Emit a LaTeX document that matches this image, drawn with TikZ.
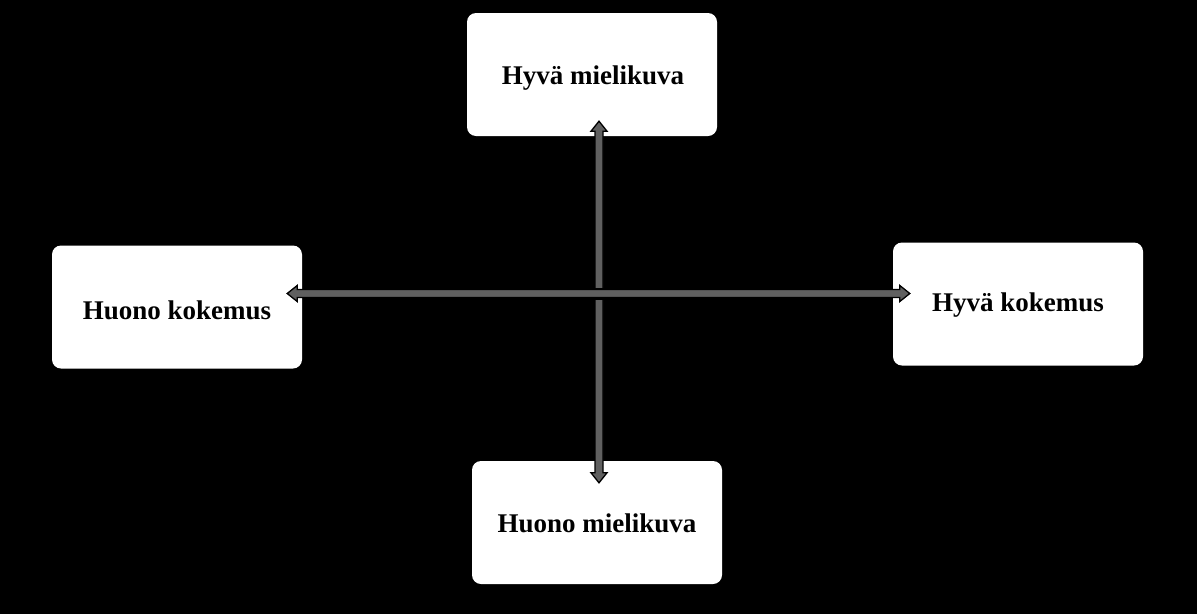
\documentclass[tikz,border=0pt]{standalone}
\usepackage{fontspec}
\setmainfont{Liberation Serif}
\usetikzlibrary{calc}
\tikzset{
  box/.style={draw=none, fill=white, rounded corners=9pt, minimum width=250pt, minimum height=123pt, inner sep=0pt},
  label/.style={font=\fontsize{27}{31}\selectfont\bfseries, text=black, inner sep=0pt},
  blockarrow/.style={fill=arrowgray, draw=black, line width=1.3pt, line join=miter}
}
\definecolor{arrowgray}{RGB}{96,96,96}
\begin{document}
\begin{tikzpicture}[x=1pt,y=-1pt]
\fill[black] (0,0) rectangle (1197,614);
\useasboundingbox (0,0) rectangle (1197,614);
\node[box] (top) at (592,74.5) {};
\node[box] (left) at (177,307) {};
\node[box] (right) at (1018,304) {};
\node[box] (bottom) at (597,522.5) {};
\node[label] (toptext) at (593,78) {Hyvä mielikuva};
\node[label] (lefttext) at (177,310) {Huono kokemus};
\node[label] (righttext) at (1018,305) {Hyvä kokemus};
\node[label] (bottomtext) at (597,523) {Huono mielikuva};
% arrow end points
\coordinate (vt) at ($(top.south)+(7,-15)$);
\coordinate (vb) at ($(bottom.north)+(2,22)$);
\coordinate (hl) at ($(left.east)+(-15,-13.5)$);
\coordinate (hr) at ($(right.west)+(17,-10.5)$);
% vertical double arrow
\draw[blockarrow] (vt) -- ($(vt)+(8,10)$) -- ($(vt)+(4,10)$) -- ($(vb)+(4,-10)$) -- ($(vb)+(8,-10)$) -- (vb)
  -- ($(vb)+(-8,-10)$) -- ($(vb)+(-4,-10)$) -- ($(vt)+(-4,10)$) -- ($(vt)+(-8,10)$) -- cycle;
% gap at crossing
\fill[black] ($(vt|-hl)+(-7,-6)$) rectangle ($(vt|-hl)+(7,6)$);
% horizontal double arrow
\draw[blockarrow] (hl) -- ($(hl)+(10,-8)$) -- ($(hl)+(10,-4)$) -- ($(hr)+(-10,-4)$) -- ($(hr)+(-10,-8)$) -- (hr)
  -- ($(hr)+(-10,8)$) -- ($(hr)+(-10,4)$) -- ($(hl)+(10,4)$) -- ($(hl)+(10,8)$) -- cycle;
\end{tikzpicture}
\end{document}
